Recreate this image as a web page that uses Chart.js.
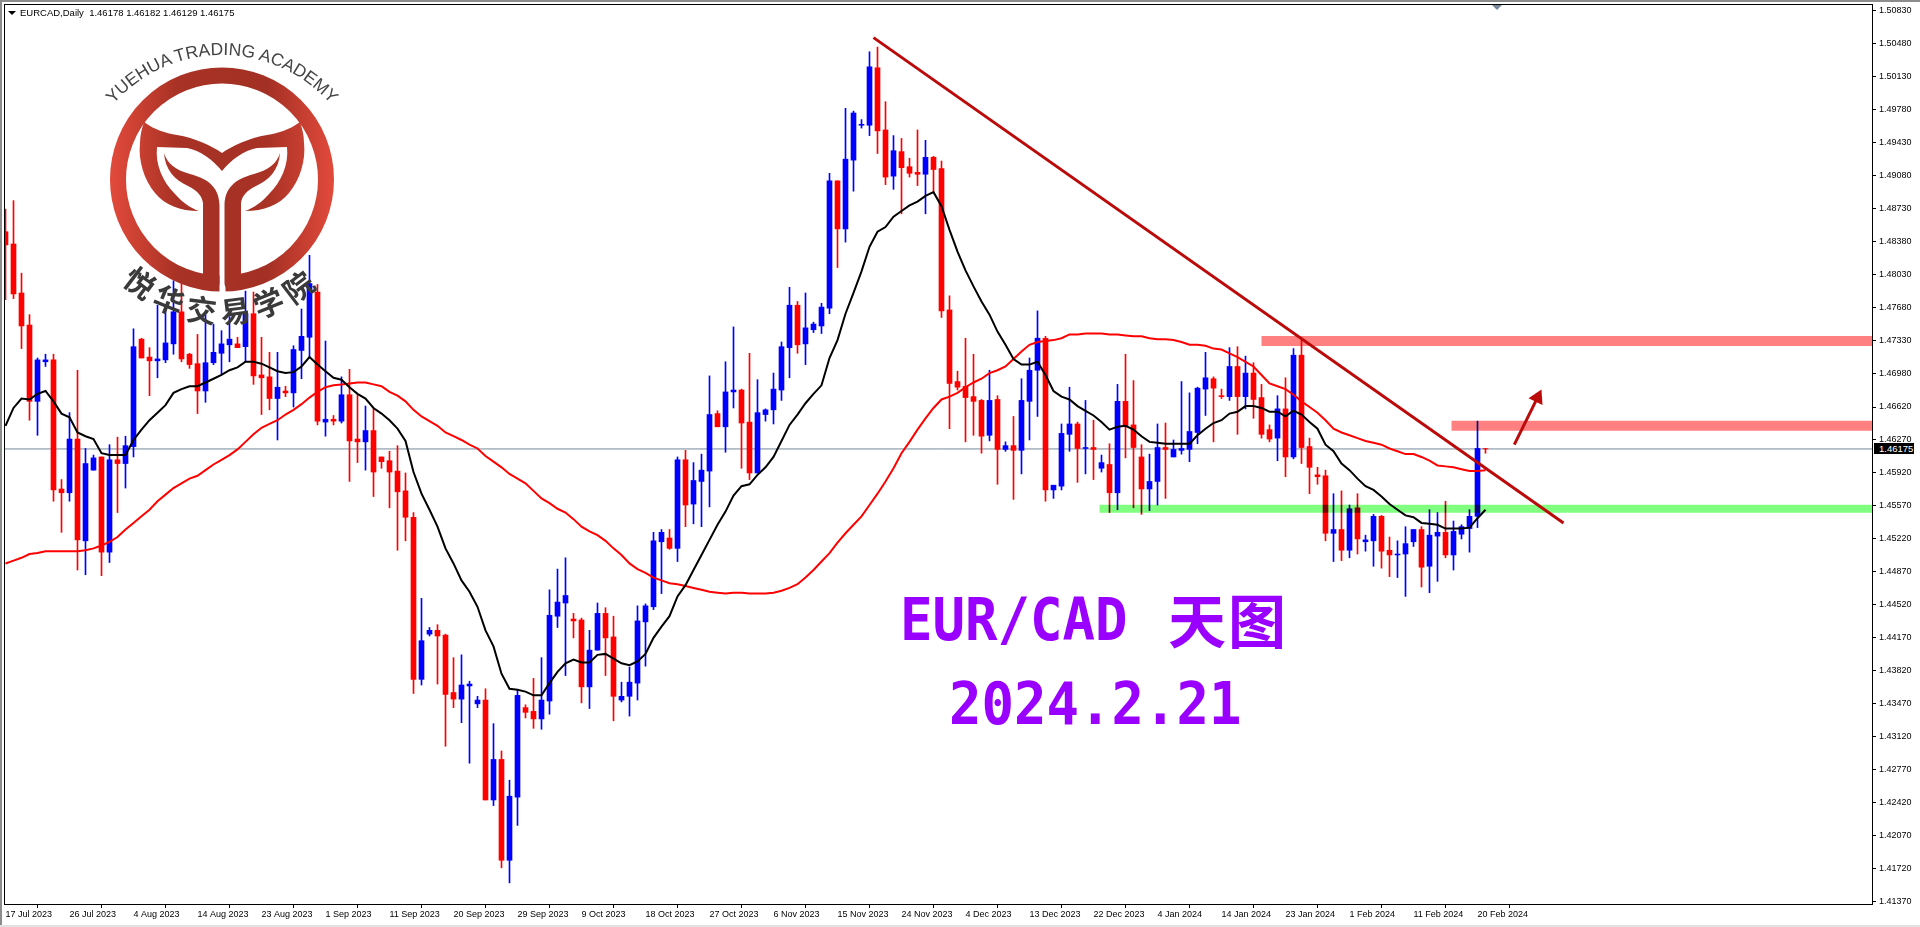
<!DOCTYPE html>
<html>
<head>
<meta charset="utf-8">
<title>EURCAD Daily</title>
<script src="https://cdn.jsdelivr.net/npm/chart.js@4/dist/chart.umd.min.js"></script>
<style>
    html, body { margin: 0; padding: 0; background: #fff; overflow: hidden; }
    #wrap { position: relative; width: 1920px; height: 927px; }
    canvas { position: absolute; left: 0; top: 0; }
    .edgeTop { position: absolute; left: 0; top: 0; width: 1920px; height: 2px; background: #8c8c8c; }
    .edgeLeft { position: absolute; left: 0; top: 0; width: 2px; height: 927px; background: #8c8c8c; }
    .edgeBottom { position: absolute; left: 0; top: 925px; width: 1920px; height: 2px; background: #e2e2e2; }
    #header { position: absolute; left: 20px; top: 7px; font: 9.5px "Liberation Sans", sans-serif; color: #000; white-space: pre; }
    #headerMark { position: absolute; left: 8px; top: 11px; border-left: 4px solid transparent; border-right: 4px solid transparent; border-top: 4px solid #000; }
    #shiftMark { position: absolute; left: 1492px; top: 5px; border-left: 5px solid transparent; border-right: 5px solid transparent; border-top: 5px solid #778899; }
    #priceTag { position: absolute; left: 1874px; top: 443px; width: 40px; height: 11px; background: #000; color: #fff; font: 9.5px/11px "Liberation Sans", sans-serif; padding-left: 5px; box-sizing: border-box; }
    .bigText { position: absolute; color: #9900ff; font-weight: bold; white-space: pre; transform-origin: left center; }
    .mono { font-family: "DejaVu Sans Mono", monospace; font-size: 54px; line-height: 60px; transform: scaleY(1.1); }
    .cjk { font-family: "Noto Sans CJK SC", sans-serif; font-size: 58px; line-height: 60px; letter-spacing: 2px; }
    #logo { position: absolute; left: 0; top: 0; }
</style>
</head>
<body>
<div id="wrap">
    <canvas id="grafico" width="1920" height="927"></canvas>
    <div class="edgeTop"></div>
    <div class="edgeLeft"></div>
    <div class="edgeBottom"></div>
    <div id="headerMark"></div>
    <div id="header">EURCAD,Daily  1.46178 1.46182 1.46129 1.46175</div>
    <div id="shiftMark"></div>
    <div id="priceTag">1.46175</div>

    <svg id="logo" width="420" height="350" viewBox="0 0 420 350">
        <defs>
            <linearGradient id="logoFill" gradientUnits="userSpaceOnUse" x1="110" y1="0" x2="334" y2="0">
                <stop offset="0" stop-color="#e24a3b"/>
                <stop offset="0.3" stop-color="#a83225"/>
                <stop offset="0.7" stop-color="#a33024"/>
                <stop offset="1" stop-color="#e24a3b"/>
            </linearGradient>
            <path id="arcTop" d="M 77,200 A 145,145 0 0 1 367,200"/>
            <path id="arcBottom" d="M 79,180 A 143,143 0 0 0 365,180"/>
            <g id="halfTail">
                <path d="M144,122 C155,130 165,133 177,135 C195,138 212,146 222,153 L222,171 C214,161 200,150 187,148 L157,147 C155,165 163,182 175,194 C181,201 190,208 199,211 C180,211 165,205 155,193 C144,180 138,160 140,143 C140,135 142,128 144,122 Z"/>
                <path d="M164,153 C167,163 175,170 190,174 C205,178 219,185 219.5,205 L219.5,283 C219.5,288 215,291 209,290.6 L203,274 L203,203 C202,195 196,190 188,186 C175,180 165,170 164,153 Z"/>
            </g>
        </defs>
        <circle cx="222" cy="179.5" r="104" fill="none" stroke="url(#logoFill)" stroke-width="16"/>
        <rect x="219.5" y="260" width="6" height="36" fill="#fff"/>
        <use href="#halfTail" fill="url(#logoFill)"/>
        <use href="#halfTail" fill="url(#logoFill)" transform="translate(444,0) scale(-1,1)"/>
        <text font-family="Liberation Sans, sans-serif" font-size="17.5" fill="#444">
            <textPath href="#arcTop" startOffset="50%" text-anchor="middle">YUEHUA TRADING ACADEMY</textPath>
        </text>
        <text font-family="Noto Sans CJK SC, sans-serif" font-weight="bold" font-size="30" fill="#3a3a3a" letter-spacing="7">
            <textPath href="#arcBottom" startOffset="50%" text-anchor="middle">悦华交易学院</textPath>
        </text>
    </svg>

    <div class="bigText mono" style="left:900px; top:590px;">EUR/CAD</div>
    <div class="bigText cjk" style="left:1168px; top:588px;">天图</div>
    <div class="bigText mono" style="left:949px; top:674px;">2024.2.21</div>
</div>

<script>
// daily candles
const opens = [
    1.4848,1.4835,1.4783,1.4749,1.4668,1.4710,1.4712,1.4575,1.4571,1.4628,
    1.4520,1.4595,1.4609,1.4508,1.4606,1.4602,1.4620,1.4734,1.4715,1.4711,
    1.4712,1.4729,1.4763,1.4718,1.4708,1.4679,1.4709,1.4719,1.4728,1.4729,
    1.4726,1.4761,1.4696,1.4694,1.4671,1.4679,1.4677,1.4722,1.4736,1.4784,
    1.4646,1.4649,1.4647,1.4675,1.4628,1.4625,1.4637,1.4609,1.4605,1.4594,
    1.4573,1.4545,1.4373,1.4421,1.4425,1.4420,1.4359,1.4352,1.4366,1.4347,
    1.4351,1.4245,1.4288,1.4181,1.4248,1.4343,1.4339,1.4331,1.4350,1.4440,
    1.4454,1.4437,1.4436,1.4365,1.4404,1.4443,1.4418,1.4351,1.4355,1.4369,
    1.4434,1.4450,1.4519,1.4523,1.4512,1.4606,1.4559,1.4583,1.4594,1.4655,
    1.4641,1.4678,1.4680,1.4646,1.4592,1.4654,1.4659,1.4680,1.4725,1.4770,
    1.4729,1.4744,1.4748,1.4767,1.4902,1.4851,1.4924,1.4961,1.4961,1.5022,
    1.4956,1.4907,1.4933,1.4917,1.4911,1.4909,1.4927,1.4915,1.4765,1.4689,
    1.4684,1.4673,1.4669,1.4632,1.4670,1.4617,1.4621,1.4616,1.4668,1.4701,
    1.4735,1.4574,1.4578,1.4633,1.4644,1.4618,1.4619,1.4597,1.4601,1.4571,
    1.4668,1.4643,1.4609,1.4575,1.4583,1.4619,1.4609,1.4616,1.4617,1.4635,
    1.4681,1.4692,1.4674,1.4673,1.4705,1.4673,1.4698,1.4672,1.4638,1.4629,
    1.4660,1.4609,1.4717,1.4620,1.4590,1.4589,1.4528,1.4532,1.4510,1.4555,
    1.4519,1.4520,1.4546,1.4510,1.4505,1.4506,1.4519,1.4532,1.4493,1.4525,
    1.4529,1.4505,1.4527,1.4533,1.4546,1.46178
];
const highs = [
    1.4872,1.4881,1.4804,1.4760,1.4714,1.4718,1.4718,1.4585,1.4656,1.4701,
    1.4618,1.4611,1.4609,1.4622,1.4630,1.4631,1.4745,1.4735,1.4725,1.4770,
    1.4769,1.4796,1.4793,1.4719,1.4739,1.4760,1.4750,1.4743,1.4758,1.4736,
    1.4785,1.4784,1.4736,1.4720,1.4720,1.4684,1.4727,1.4766,1.4823,1.4792,
    1.4732,1.4653,1.4694,1.4702,1.4675,1.4663,1.4660,1.4609,1.4615,1.4621,
    1.4592,1.4550,1.4459,1.4428,1.4431,1.4421,1.4396,1.4399,1.4371,1.4355,
    1.4363,1.4326,1.4297,1.4266,1.4362,1.4346,1.4374,1.4396,1.4468,1.4490,
    1.4502,1.4443,1.4438,1.4425,1.4454,1.4449,1.4440,1.4370,1.4386,1.4451,
    1.4453,1.4529,1.4532,1.4532,1.4609,1.4616,1.4603,1.4612,1.4695,1.4658,
    1.4710,1.4747,1.4681,1.4719,1.4691,1.4660,1.4698,1.4731,1.4789,1.4774,
    1.4783,1.4752,1.4772,1.4910,1.4902,1.4979,1.4976,1.4967,1.5039,1.5044,
    1.4986,1.4950,1.4947,1.4926,1.4956,1.4945,1.4928,1.4923,1.4780,1.4700,
    1.4735,1.4718,1.4670,1.4701,1.4674,1.4625,1.4652,1.4692,1.4714,1.4764,
    1.4737,1.4579,1.4644,1.4683,1.4646,1.4669,1.4648,1.4611,1.4623,1.4686,
    1.4718,1.4690,1.4622,1.4612,1.4644,1.4645,1.4627,1.4689,1.4677,1.4683,
    1.4720,1.4694,1.4681,1.4725,1.4726,1.4716,1.4709,1.4686,1.4643,1.4674,
    1.4693,1.4724,1.4733,1.4629,1.4598,1.4595,1.4570,1.4573,1.4558,1.4570,
    1.4526,1.4548,1.4547,1.4524,1.4520,1.4535,1.4532,1.4535,1.4553,1.4550,
    1.4562,1.4541,1.4537,1.4553,1.4647,1.46182
];
const lows = [
    1.4776,1.4777,1.4724,1.4648,1.4632,1.4705,1.4562,1.4529,1.4562,1.4489,
    1.4484,1.4595,1.4483,1.4497,1.4550,1.4576,1.4609,1.4714,1.4674,1.4693,
    1.4709,1.4718,1.4710,1.4703,1.4655,1.4667,1.4707,1.4696,1.4710,1.4725,
    1.4710,1.4686,1.4654,1.4659,1.4627,1.4673,1.4662,1.4692,1.4715,1.4643,
    1.4631,1.4643,1.4645,1.4583,1.4603,1.4595,1.4567,1.4597,1.4555,1.4510,
    1.4520,1.4358,1.4367,1.4419,1.4368,1.4302,1.4343,1.4327,1.4284,1.4343,
    1.4245,1.4239,1.4173,1.4157,1.4218,1.4332,1.4321,1.4320,1.4336,1.4428,
    1.4377,1.4417,1.4348,1.4342,1.4404,1.4377,1.4329,1.4349,1.4334,1.4351,
    1.4387,1.4447,1.4464,1.4511,1.4498,1.4535,1.4538,1.4535,1.4556,1.4641,
    1.4614,1.4661,1.4597,1.4585,1.4592,1.4647,1.4644,1.4669,1.4693,1.4719,
    1.4707,1.4741,1.4740,1.4761,1.4810,1.4837,1.4891,1.4958,1.4950,1.4931,
    1.4898,1.4893,1.4867,1.4906,1.4897,1.4867,1.4889,1.4757,1.4639,1.4680,
    1.4625,1.4632,1.4613,1.4626,1.4580,1.4615,1.4564,1.4591,1.4627,1.4652,
    1.4562,1.4565,1.4574,1.4615,1.4582,1.4591,1.4585,1.4593,1.4550,1.4553,
    1.4608,1.4555,1.4548,1.4552,1.4558,1.4565,1.4609,1.4612,1.4604,1.4623,
    1.4653,1.4625,1.4671,1.4669,1.4633,1.4660,1.4650,1.4629,1.4625,1.4605,
    1.4588,1.4607,1.4602,1.4570,1.4580,1.4520,1.4498,1.4499,1.4502,1.4506,
    1.4509,1.4493,1.4491,1.4482,1.4481,1.4461,1.4514,1.4471,1.4465,1.4477,
    1.4502,1.4489,1.4522,1.4508,1.4534,1.46129
];
const closes = [
    1.4834,1.4782,1.4748,1.4668,1.4712,1.4712,1.4574,1.4571,1.4628,1.4521,
    1.4602,1.4608,1.4508,1.4606,1.4602,1.4621,1.4726,1.4714,1.4711,1.4713,
    1.4730,1.4763,1.4713,1.4707,1.4679,1.4709,1.4720,1.4729,1.4734,1.4725,
    1.4761,1.4695,1.4693,1.4671,1.4683,1.4677,1.4723,1.4737,1.4793,1.4647,
    1.4649,1.4647,1.4675,1.4626,1.4625,1.4637,1.4593,1.4604,1.4593,1.4572,
    1.4545,1.4373,1.4414,1.4425,1.4419,1.4357,1.4352,1.4367,1.4368,1.4351,
    1.4245,1.4288,1.4181,1.4249,1.4356,1.4338,1.4331,1.4351,1.4441,1.4455,
    1.4462,1.4435,1.4365,1.4404,1.4443,1.4417,1.4355,1.4355,1.4370,1.4435,
    1.4451,1.4520,1.4529,1.4512,1.4606,1.4558,1.4584,1.4595,1.4654,1.4641,
    1.4678,1.4680,1.4645,1.4592,1.4656,1.4659,1.4681,1.4726,1.4770,1.4728,
    1.4746,1.4750,1.4768,1.4902,1.4851,1.4925,1.4974,1.4962,1.5023,1.4955,
    1.4906,1.4934,1.4916,1.4910,1.4909,1.4927,1.4914,1.4764,1.4687,1.4683,
    1.4672,1.4668,1.4631,1.4669,1.4617,1.4621,1.4616,1.4669,1.4701,1.4735,
    1.4574,1.4579,1.4634,1.4644,1.4618,1.4619,1.4617,1.4603,1.4571,1.4668,
    1.4642,1.4619,1.4575,1.4583,1.4619,1.4617,1.4617,1.4618,1.4636,1.4682,
    1.4693,1.4682,1.4673,1.4705,1.4673,1.4698,1.4670,1.4633,1.4628,1.4660,
    1.4609,1.4717,1.4619,1.4598,1.4588,1.4528,1.4532,1.4510,1.4554,1.4522,
    1.4521,1.4546,1.4509,1.4505,1.4506,1.4517,1.4532,1.4492,1.4526,1.4529,
    1.4505,1.4530,1.4535,1.4546,1.4618,1.46175
];

// the two moving averages on the chart
const maFast = [
    1.4642,1.4661,1.4671,1.4670,1.4676,1.4679,1.4668,1.4655,1.4651,1.4635,
    1.4631,1.4628,1.4613,1.4611,1.4611,1.4611,1.4627,1.4638,1.4648,1.4656,
    1.4664,1.4677,1.4681,1.4684,1.4684,1.4688,1.4692,1.4696,1.4701,1.4704,
    1.4710,1.4710,1.4708,1.4704,1.4700,1.4698,1.4699,1.4705,1.4715,1.4707,
    1.4700,1.4693,1.4691,1.4683,1.4676,1.4671,1.4661,1.4655,1.4648,1.4639,
    1.4626,1.4593,1.4570,1.4553,1.4535,1.4512,1.4496,1.4478,1.4466,1.4450,
    1.4425,1.4408,1.4379,1.4363,1.4362,1.4360,1.4356,1.4356,1.4369,1.4381,
    1.4390,1.4394,1.4391,1.4391,1.4399,1.4400,1.4395,1.4390,1.4388,1.4392,
    1.4400,1.4417,1.4429,1.4440,1.4461,1.4473,1.4489,1.4505,1.4521,1.4537,
    1.4551,1.4568,1.4578,1.4580,1.4590,1.4598,1.4609,1.4626,1.4643,1.4654,
    1.4666,1.4676,1.4685,1.4714,1.4733,1.4761,1.4783,1.4806,1.4832,1.4848,
    1.4853,1.4864,1.4870,1.4876,1.4880,1.4886,1.4890,1.4875,1.4850,1.4827,
    1.4807,1.4790,1.4774,1.4760,1.4742,1.4728,1.4713,1.4707,1.4707,1.4710,
    1.4696,1.4679,1.4673,1.4670,1.4663,1.4658,1.4653,1.4646,1.4638,1.4641,
    1.4642,1.4638,1.4631,1.4625,1.4624,1.4623,1.4623,1.4623,1.4623,1.4632,
    1.4639,1.4645,1.4648,1.4655,1.4657,1.4663,1.4663,1.4661,1.4657,1.4657,
    1.4652,1.4658,1.4654,1.4646,1.4639,1.4622,1.4615,1.4602,1.4595,1.4586,
    1.4578,1.4574,1.4567,1.4559,1.4553,1.4547,1.4545,1.4539,1.4538,1.4537,
    1.4533,1.4533,1.4533,1.4534,1.4544,1.4553
];
const maSlow = [
    1.4496,1.4499,1.4502,1.4506,1.4507,1.4509,1.4509,1.4509,1.4509,1.4509,
    1.4510,1.4512,1.4515,1.4519,1.4524,1.4532,1.4539,1.4546,1.4553,1.4562,
    1.4569,1.4576,1.4581,1.4586,1.4589,1.4595,1.4601,1.4606,1.4611,1.4617,
    1.4625,1.4633,1.4640,1.4644,1.4648,1.4654,1.4659,1.4665,1.4672,1.4678,
    1.4683,1.4685,1.4686,1.4687,1.4688,1.4688,1.4686,1.4684,1.4678,1.4674,
    1.4668,1.4659,1.4652,1.4647,1.4642,1.4635,1.4631,1.4627,1.4622,1.4618,
    1.4610,1.4604,1.4598,1.4591,1.4586,1.4581,1.4573,1.4565,1.4560,1.4554,
    1.4550,1.4543,1.4535,1.4530,1.4526,1.4520,1.4512,1.4505,1.4496,1.4490,
    1.4486,1.4481,1.4478,1.4475,1.4474,1.4472,1.4470,1.4468,1.4466,1.4465,
    1.4464,1.4465,1.4465,1.4464,1.4464,1.4464,1.4465,1.4467,1.4470,1.4474,
    1.4481,1.4489,1.4498,1.4507,1.4518,1.4528,1.4537,1.4546,1.4558,1.4570,
    1.4583,1.4597,1.4613,1.4625,1.4638,1.4650,1.4661,1.4670,1.4673,1.4677,
    1.4683,1.4688,1.4692,1.4698,1.4701,1.4705,1.4713,1.4721,1.4728,1.4731,
    1.4732,1.4733,1.4735,1.4739,1.4739,1.4740,1.4740,1.4740,1.4739,1.4739,
    1.4738,1.4737,1.4737,1.4735,1.4734,1.4734,1.4733,1.4731,1.4728,1.4728,
    1.4727,1.4724,1.4723,1.4719,1.4715,1.4710,1.4705,1.4696,1.4687,1.4684,
    1.4681,1.4675,1.4668,1.4662,1.4656,1.4648,1.4639,1.4635,1.4632,1.4629,
    1.4626,1.4624,1.4622,1.4618,1.4615,1.4612,1.4612,1.4609,1.4605,1.4600,
    1.4599,1.4598,1.4596,1.4594,1.4594,1.4595
];

// axis labels
const priceTicks = [
    1.50830,1.50480,1.50130,1.49780,1.49430,1.49080,1.48730,1.48380,1.48030,1.47680,
    1.47330,1.46980,1.46620,1.46270,1.45920,1.45570,1.45220,1.44870,1.44520,1.44170,
    1.43820,1.43470,1.43120,1.42770,1.42420,1.42070,1.41720,1.41370
];
const dateLabels = [
    "17 Jul 2023","26 Jul 2023","4 Aug 2023","14 Aug 2023","23 Aug 2023","1 Sep 2023",
    "11 Sep 2023","20 Sep 2023","29 Sep 2023","9 Oct 2023","18 Oct 2023","27 Oct 2023",
    "6 Nov 2023","15 Nov 2023","24 Nov 2023","4 Dec 2023","13 Dec 2023","22 Dec 2023",
    "4 Jan 2024","14 Jan 2024","23 Jan 2024","1 Feb 2024","11 Feb 2024","20 Feb 2024"
];

// things drawn by hand on the chart: [bar, price]
const lastPrice = 1.46175;
const trendLine = [[108.5, 1.5054], [194.75, 1.4539]];
const arrowLine = [[188.6, 1.4622], [191.5, 1.4672]];
const resistZone1 = [[157, 1.4732], [234, 1.4732]];
const resistZone2 = [[180.75, 1.4642], [234, 1.4642]];
const supportZone = [[136.75, 1.4554], [234, 1.4554]];

const toPoints = (pairs) => pairs.map(p => ({ x: p[0], y: p[1] }));
const UP = "#0000ff";
const DOWN = "#ff0000";
const candleColors = closes.map((c, i) => (c >= opens[i] ? UP : DOWN));

// zones are multiplied over the candles, like in the screenshot
const zoneBlend = {
    id: "zoneBlend",
    beforeDatasetDraw(chart, args) {
        if (chart.data.datasets[args.index].isZone) chart.ctx.globalCompositeOperation = "multiply";
    },
    afterDatasetDraw(chart, args) {
        if (chart.data.datasets[args.index].isZone) chart.ctx.globalCompositeOperation = "source-over";
    }
};

const frame = {
    id: "frame",
    afterDraw(chart) {
        const a = chart.chartArea;
        const ctx = chart.ctx;
        ctx.save();
        ctx.strokeStyle = "#000";
        ctx.lineWidth = 1;
        ctx.strokeRect(a.left - 0.5, a.top - 0.5, a.right - a.left + 1, a.bottom - a.top + 1);
        ctx.restore();
    }
};

function lineSet(label, points, color, width, order, extra) {
    return Object.assign({
        type: "line",
        label: label,
        data: points,
        borderColor: color,
        backgroundColor: color,
        borderWidth: width,
        borderCapStyle: "butt",
        pointRadius: 0,
        tension: 0,
        order: order
    }, extra || {});
}

new Chart(document.getElementById("grafico").getContext("2d"), {
    type: "bar",
    data: {
        datasets: [
            {
                label: "wick",
                data: closes.map((c, i) => ({ x: i, y: [lows[i], highs[i]] })),
                backgroundColor: candleColors,
                barThickness: 1,
                grouped: false,
                order: 6
            },
            {
                label: "body",
                data: closes.map((c, i) => ({ x: i, y: [opens[i], c] })),
                backgroundColor: candleColors,
                barThickness: 5,
                grouped: false,
                order: 5
            },
            lineSet("price", toPoints([[-1, lastPrice], [234, lastPrice]]), "#778899", 1, 7),
            lineSet("maSlow", maSlow.map((v, i) => ({ x: i, y: v })), "#ff0000", 2, 4),
            lineSet("maFast", maFast.map((v, i) => ({ x: i, y: v })), "#000000", 2, 3),
            lineSet("zone1", toPoints(resistZone1), "#ff8080", 10, 2, { isZone: true }),
            lineSet("zone2", toPoints(resistZone2), "#ff8080", 10, 2, { isZone: true }),
            lineSet("zone3", toPoints(supportZone), "#80ff80", 8, 2, { isZone: true }),
            lineSet("trend", toPoints(trendLine), "#bb0a0a", 3, 1),
            lineSet("arrow", toPoints(arrowLine), "#bb0a0a", 3, 1, {
                pointRadius: [0, 9],
                pointStyle: "triangle",
                pointRotation: 26,
                pointBackgroundColor: "#bb0a0a",
                pointBorderWidth: 0
            })
        ]
    },
    options: {
        responsive: false,
        animation: false,
        events: [],
        layout: { autoPadding: false, padding: { left: 5, top: 5, right: 0, bottom: 0 } },
        plugins: { legend: { display: false }, tooltip: { enabled: false } },
        scales: {
            x: {
                type: "linear",
                offset: false,
                min: -0.0625,
                max: 233.3125,
                border: { display: false },
                grid: { drawOnChartArea: false, tickLength: 4, tickColor: "#000" },
                afterBuildTicks: (scale) => { scale.ticks = dateLabels.map((d, i) => ({ value: i * 8 })); },
                afterFit: (scale) => { scale.height = 23; scale.paddingLeft = 0; scale.paddingRight = 0; },
                ticks: {
                    autoSkip: false,
                    maxRotation: 0,
                    align: "start",
                    padding: 1,
                    color: "#000",
                    font: { family: "Liberation Sans", size: 9 },
                    callback: (v, i) => dateLabels[i]
                }
            },
            y: {
                position: "right",
                min: 1.41346,
                max: 1.50886,
                border: { display: false },
                grid: { drawOnChartArea: false, tickLength: 4, tickColor: "#000" },
                afterBuildTicks: (scale) => { scale.ticks = priceTicks.map(v => ({ value: v })); },
                afterFit: (scale) => { scale.width = 48; scale.paddingTop = 0; scale.paddingBottom = 0; },
                ticks: {
                    autoSkip: false,
                    padding: 3,
                    color: "#000",
                    font: { family: "Liberation Sans", size: 9 },
                    callback: (v) => v.toFixed(5)
                }
            }
        }
    },
    plugins: [zoneBlend, frame]
});
</script>
</body>
</html>
